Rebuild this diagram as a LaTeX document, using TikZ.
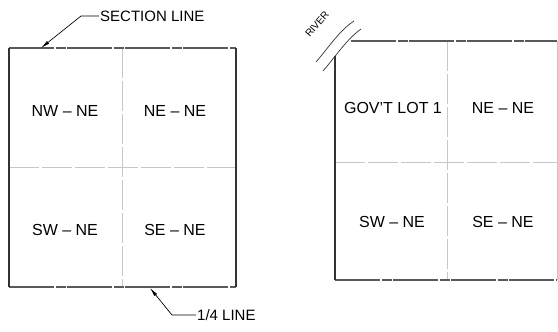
\documentclass[tikz,border=0pt]{standalone}
\usepackage{fontspec}
\setmainfont{Liberation Sans}
\usetikzlibrary{arrows.meta}

\begin{document}
\begin{tikzpicture}[
    x=1pt, y=-1pt,
    boundary/.style={draw=black!80, line width=1.6pt},
    phantom/.style={draw=black!65, line width=1.6pt, dash pattern=on 45pt off 1.5pt on 10pt off 1.5pt},
    quarter/.style={draw=black!22, line width=0.9pt, dash pattern=on 30pt off 3pt},
    fadeside/.style={draw=black!22, line width=0.9pt},
    parcel/.style={font=\fontsize{16}{16}\selectfont},
    callout/.style={font=\fontsize{15}{15}\selectfont, anchor=west, inner sep=1pt},
    leader/.style={draw, line width=0.7pt, -{Latex[length=9pt, width=3.5pt]}},
    riverbank/.style={draw=black!80, line width=0.7pt}
]
    \useasboundingbox (0,0) rectangle (558,332);

    % Left section
    \draw[quarter] (122,48) -- (122,287);
    \draw[quarter] (9,167) -- (236,167);
    \draw[phantom] (9,48) -- (236,48);
    \draw[phantom] (9,287) -- (236,287);
    \draw[boundary] (9,48) -- (9,287);
    \draw[boundary] (236,48) -- (236,287);

    \node[parcel] (nwne) at (65,111) {NW -- NE};
    \node[parcel] (nene) at (175,111) {NE -- NE};
    \node[parcel] (swne) at (65,230) {SW -- NE};
    \node[parcel] (sene) at (175,230) {SE -- NE};

    % Callouts
    \coordinate (sectip) at (41,48);
    \node[callout] (seclabel) at (99,16) {SECTION LINE};
    \draw[leader] (seclabel.west) -- ++(-18,0) -- (sectip);

    \coordinate (qtrtip) at (150,288);
    \node[callout] (qtrlabel) at (196,315) {1/4 LINE};
    \draw[leader] (qtrlabel.west) -- ++(-24,0) -- (qtrtip);

    % Right section
    \draw[quarter] (447,41) -- (447,280);
    \draw[quarter] (335,162) -- (557,162);
    \draw[fadeside] (557,41) -- (557,280);
    \draw[phantom] (351,41) -- (557,41);
    \draw[phantom] (335,280) -- (557,280);
    \draw[boundary] (335,56) -- (335,280);

    \node[parcel] (lot) at (393,108) {GOV'T LOT 1};
    \node[parcel] (nene2) at (503,108) {NE -- NE};
    \node[parcel] (swne2) at (392,222) {SW -- NE};
    \node[parcel] (sene2) at (503,222) {SE -- NE};

    % River
    \draw[riverbank] (316,62) .. controls (329,47) and (339,31) .. (354,21);
    \draw[riverbank] (323,71) .. controls (336,56) and (346,40) .. (361,29);
    \node[rotate=50, inner sep=0pt, font=\fontsize{10}{10}\selectfont] (river) at (317,24) {RIVER};

\end{tikzpicture}
\end{document}
